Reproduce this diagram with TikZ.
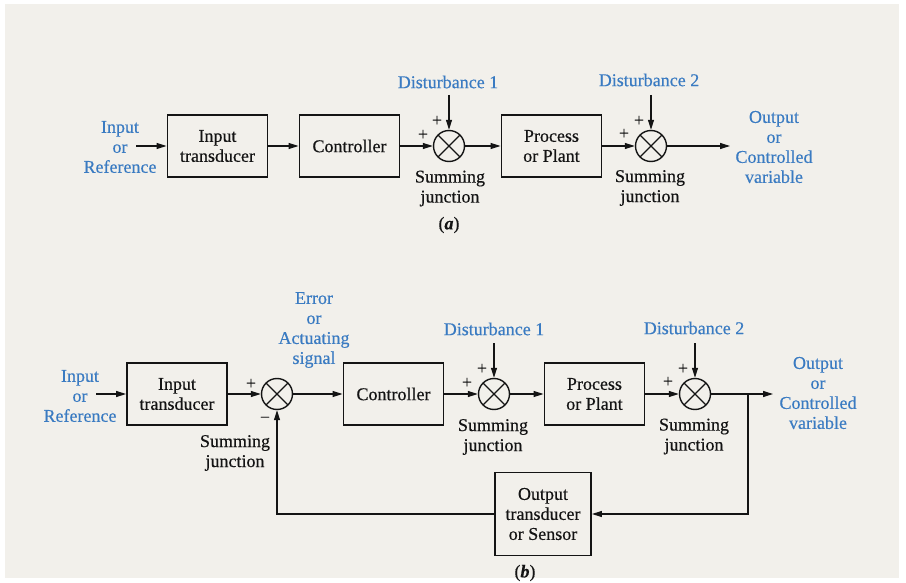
\documentclass[tikz,border=0pt]{standalone}
\usepackage{fontspec}
\setmainfont{Liberation Serif}[FakeBold=0.4]
\usetikzlibrary{arrows.meta,calc}
\definecolor{paper}{HTML}{F2F0EB}
\definecolor{ink}{HTML}{141414}
\definecolor{lblue}{HTML}{3A7BC2}
\tikzset{
  txt/.style={font=\fontsize{18}{20}\selectfont, text=ink, align=center, inner sep=0pt},
  sig/.style={txt, text=lblue},
  block/.style={txt, draw=ink, line width=1.9pt, minimum width=100pt, minimum height=62pt},
  sumnode/.style={circle, draw=ink, line width=1.4pt, minimum size=31pt, inner sep=0pt,
    path picture={\draw[ink, line width=1.2pt]
      (path picture bounding box.north west) -- (path picture bounding box.south east)
      (path picture bounding box.north east) -- (path picture bounding box.south west);}},
  sgn/.style={txt},
  conn/.style={draw=ink, line width=1.1pt, -{Triangle[length=10pt,width=6pt]}},
}
\begin{document}
\begin{tikzpicture}[x=1pt,y=-1pt]
\useasboundingbox (0,0) rectangle (906,583);
\fill[white] (0,0) rectangle (906,583);
\fill[paper] (5,4) rectangle (899,578);

% ---------- (a) open loop ----------
\node[sig] (a-inl) at (120,147) {Input\\or\\Reference};
\coordinate (a-in) at (136,146);
\node[block] (a-it) at (217.5,146) {Input\\transducer};
\node[block] (a-ctl) at (349.5,146) {Controller};
\node[sumnode] (a-s1) at (449,146) {};
\node[block] (a-pl) at (551.5,146) {Process\\or Plant};
\node[sumnode] (a-s2) at (651,146) {};
\coordinate (a-out) at (730,146);
\node[sig] (a-outl) at (774,147) {Output\\or\\Controlled\\variable};

\node[sig] (a-d1) at (448,82) {Disturbance 1};
\coordinate (a-d1t) at (449,95);
\node[sig] (a-d2) at (649,80) {Disturbance 2};
\coordinate (a-d2t) at (651,95);

\node[sgn] (a-p1t) at ($(a-s1)+(-12,-25)$) {+};
\node[sgn] (a-p1l) at ($(a-s1)+(-26,-11)$) {+};
\node[sgn] (a-p2t) at ($(a-s2)+(-12,-25)$) {+};
\node[sgn] (a-p2l) at ($(a-s2)+(-27,-12)$) {+};

\node[txt] (a-sj1) at (450,188.5) {Summing\\junction};
\node[txt] (a-sj2) at (650,188) {Summing\\junction};
\node[txt] (a-cap) at (449,225) {(\textbf{\textit{a}})};

\draw[conn] (a-in) -- (a-it);
\draw[conn] (a-it) -- (a-ctl);
\draw[conn] (a-ctl) -- (a-s1);
\draw[conn] (a-s1) -- (a-pl);
\draw[conn] (a-pl) -- (a-s2);
\draw[conn] (a-s2) -- (a-out);
\draw[conn] (a-d1t) -- (a-s1.north);
\draw[conn] (a-d2t) -- (a-s2.north);

% ---------- (b) closed loop ----------
\node[sig] (b-inl) at (80,396) {Input\\or\\Reference};
\coordinate (b-in) at (96,394);
\node[block] (b-it) at (177,394) {Input\\transducer};
\node[sumnode] (b-s1) at (277,394) {};
\node[block] (b-ctl) at (393.5,394) {Controller};
\node[sumnode] (b-s2) at (494,394) {};
\node[block] (b-pl) at (594.5,394) {Process\\or Plant};
\node[sumnode] (b-s3) at (695,394) {};
\coordinate (b-out) at (773,394);
\coordinate (b-br) at (748,394);
\node[sig] (b-outl) at (818,393) {Output\\or\\Controlled\\variable};
\node[block, minimum width=96pt, minimum height=83pt] (b-sen) at (543,514) {Output\\transducer\\or Sensor};

\node[sig] (b-err) at (314,330) {Error\\or\\Actuating\\signal};
\node[sig] (b-d1) at (494,329) {Disturbance 1};
\coordinate (b-d1t) at (494,343);
\node[sig] (b-d2) at (694,328) {Disturbance 2};
\coordinate (b-d2t) at (695,343);

\node[sgn] (b-p1l) at ($(b-s1)+(-26,-10)$) {+};
\node[sgn] (b-m1) at ($(b-s1)+(-12,26)$) {−};
\node[sgn] (b-p2t) at ($(b-s2)+(-12,-25)$) {+};
\node[sgn] (b-p2l) at ($(b-s2)+(-27,-11)$) {+};
\node[sgn] (b-p3t) at ($(b-s3)+(-12,-25)$) {+};
\node[sgn] (b-p3l) at ($(b-s3)+(-27,-12)$) {+};

\node[txt] (b-sj1) at (235,453) {Summing\\junction};
\node[txt] (b-sj2) at (493,437) {Summing\\junction};
\node[txt] (b-sj3) at (694,436.5) {Summing\\junction};
\node[txt] (b-cap) at (525,573) {(\textbf{\textit{b}})};

\draw[conn] (b-in) -- (b-it);
\draw[conn] (b-it) -- (b-s1);
\draw[conn] (b-s1) -- (b-ctl);
\draw[conn] (b-ctl) -- (b-s2);
\draw[conn] (b-s2) -- (b-pl);
\draw[conn] (b-pl) -- (b-s3);
\draw[conn] (b-s3) -- (b-out);
\draw[conn] (b-d1t) -- (b-s2.north);
\draw[conn] (b-d2t) -- (b-s3.north);
\draw[conn] (b-br) |- (b-sen.east);
\draw[conn] (b-sen.west) -| (b-s1.south);
\end{tikzpicture}
\end{document}
